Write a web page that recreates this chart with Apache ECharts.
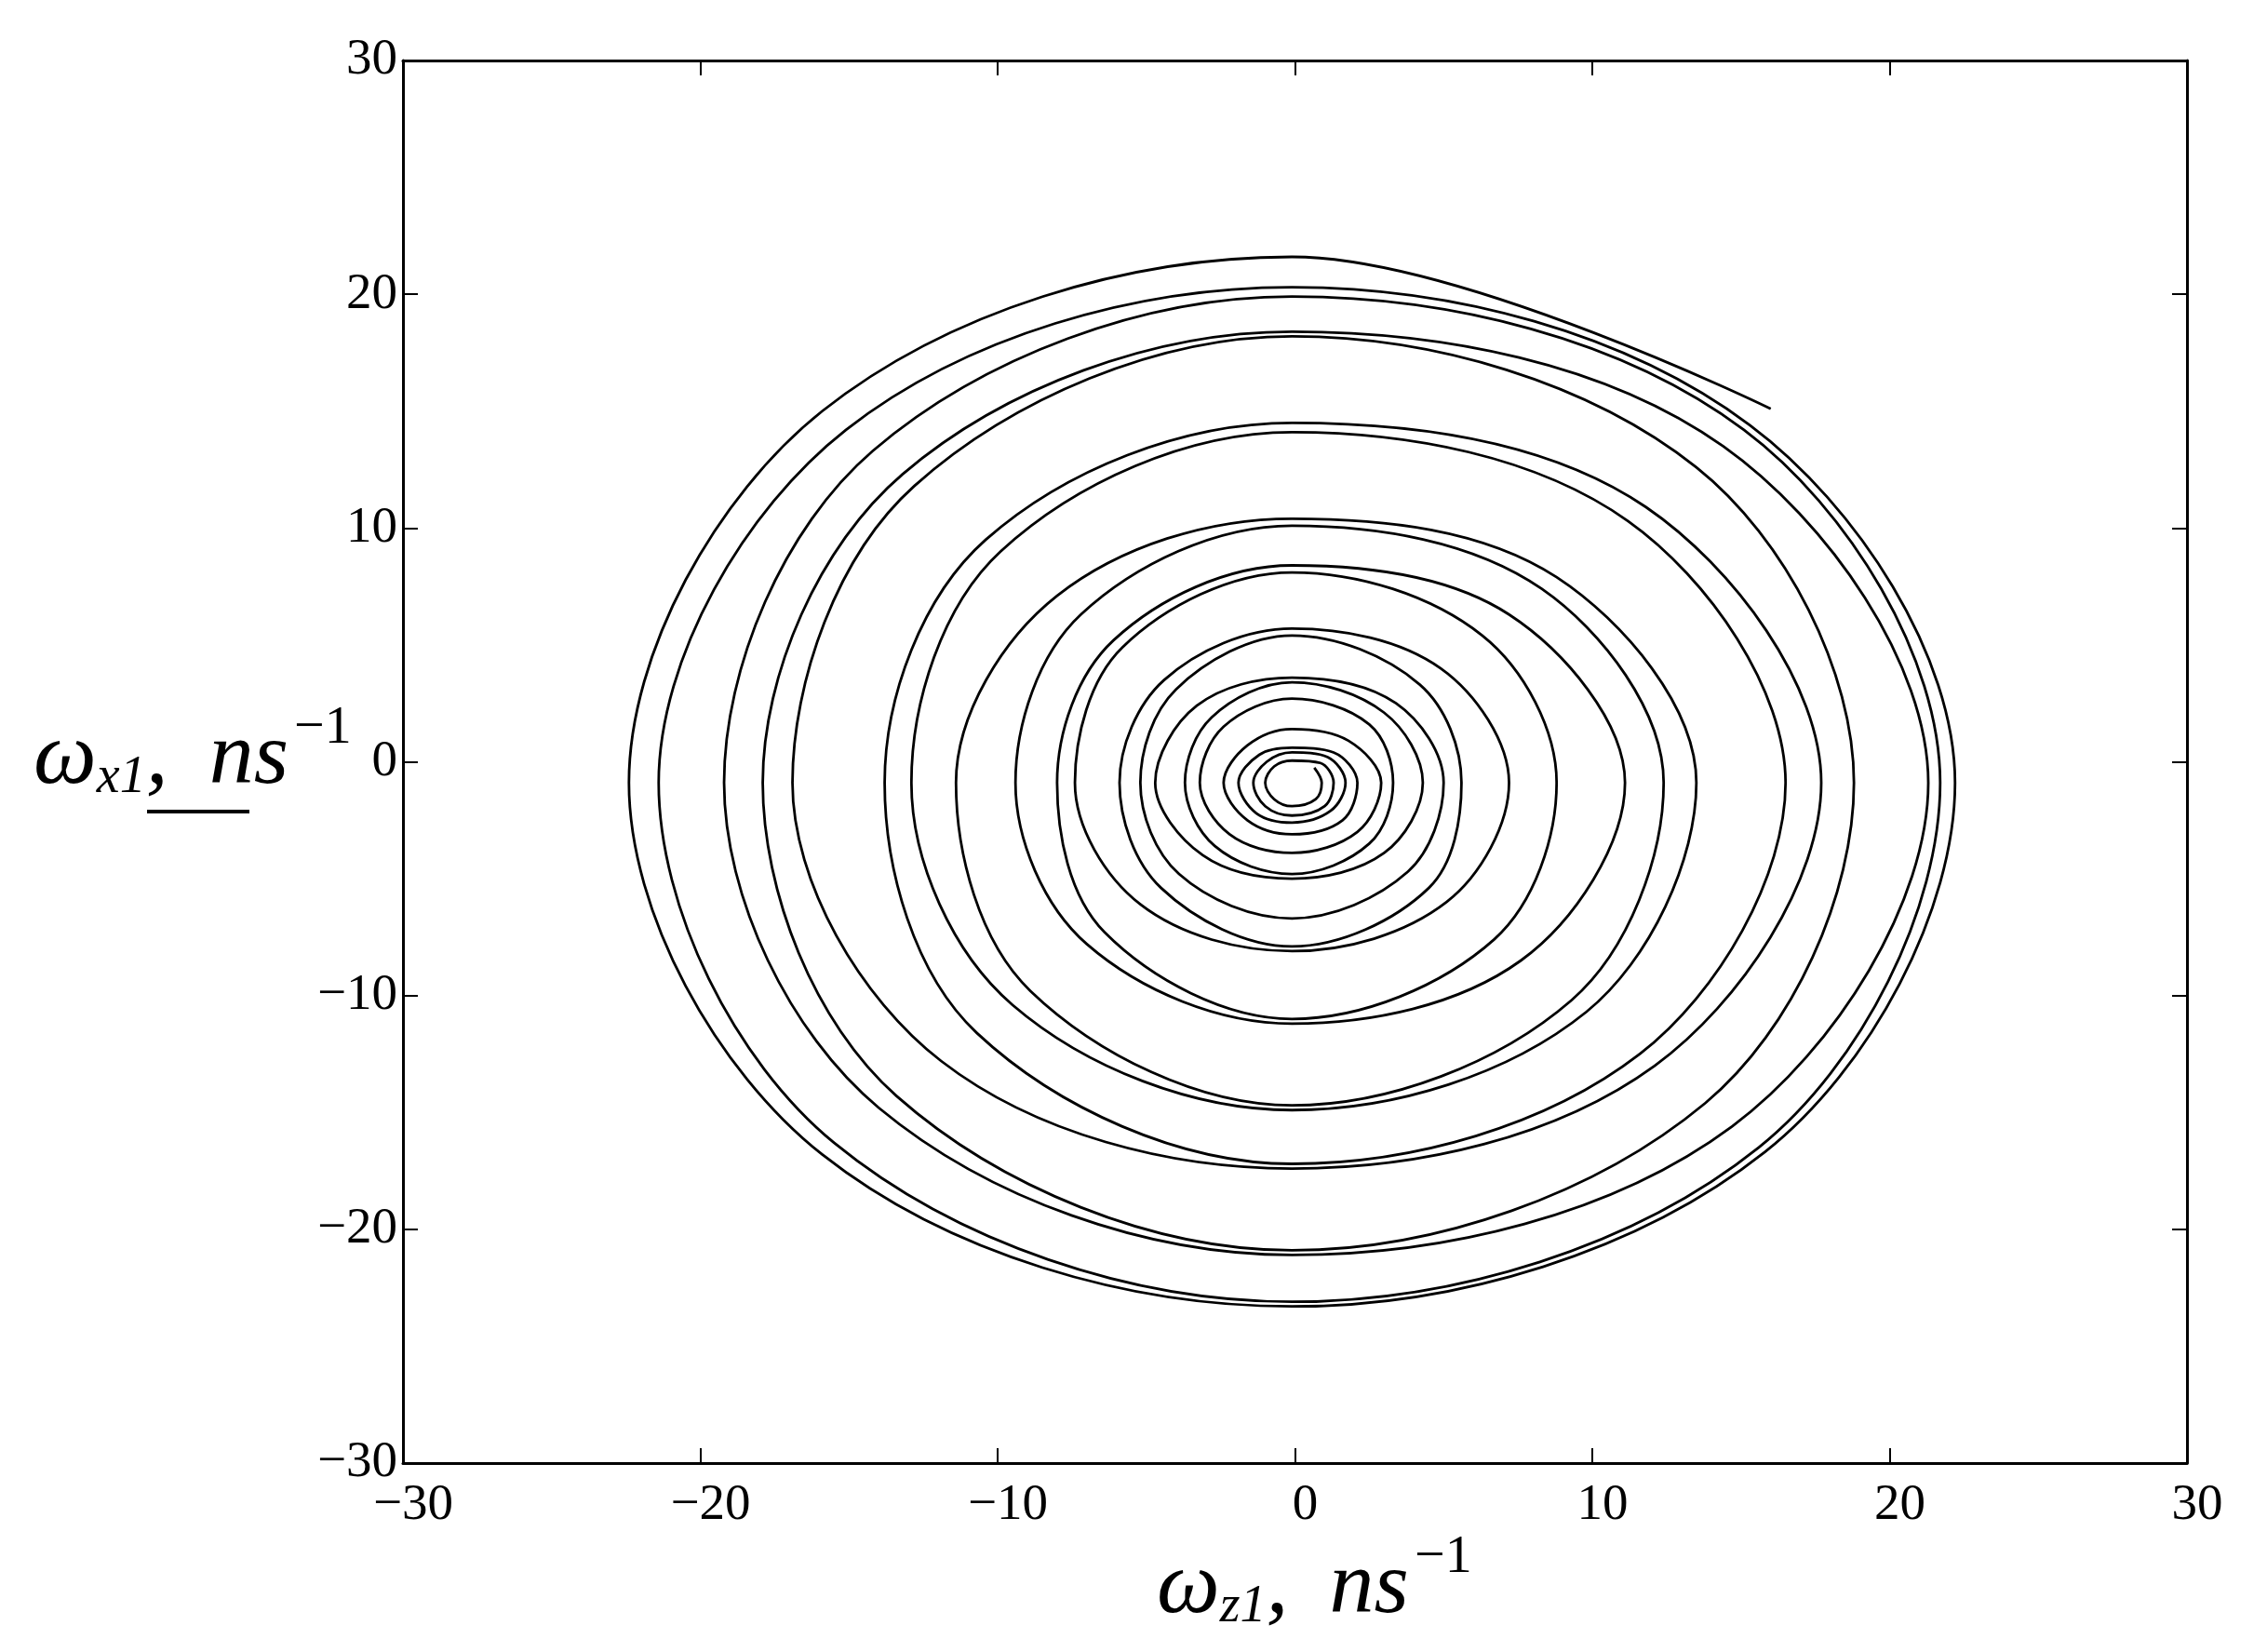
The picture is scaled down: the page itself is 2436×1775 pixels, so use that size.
<!DOCTYPE html>
<html lang="en">
<head>
    <meta charset="UTF-8">
    <title>omega z1 / omega x1</title>
    <script type="text/javascript" src="https://cdn.jsdelivr.net/npm/echarts@6/dist/echarts.min.js"></script>
    <style>
        html, body { margin: 0; padding: 0; background: #fff; }
        #main { width: 2436px; height: 1775px; }
    </style>
</head>
<body>
<div id="main"></div>
<script>
    // points of each loop, outer loop first
    // N / W / S / E: turning points; NW / SW / SE / NE: [z, x] pairs on the diagonals
    var loopN  = [21.6, 20.3, 19.9, 18.4, 18.2, 14.5, 14.1, 10.4, 10.1, 8.4, 8.1, 5.7, 5.4, 3.6, 3.4, 2.7, 1.4, 0.6, 0.4, 0.05];
    var loopNW = [[-15.9, 15.0], [-15.1, 14.2], [-14.2, 13.3], [-13.2, 12.3], [-12.8, 11.8], [-10.4, 9.5], [-9.9, 9.0], [-8.0, 7.1], [-7.2, 6.3], [-6.1, 5.2],
                  [-5.8, 4.9], [-4.4, 3.5], [-4.0, 3.1], [-3.3, 2.4], [-2.8, 1.9], [-2.4, 1.5], [-1.6, 0.7], [-1.2, 0.3], [-0.95, 0.0], [-0.7, -0.2]];
    var loopW  = [-22.4, -21.4, -19.2, -17.9, -16.9, -13.8, -12.9, -11.4, -9.4, -8.0, -7.4, -5.9, -5.2, -4.7, -3.7, -3.2, -2.4, -1.9, -1.4, -1.0];
    var loopSW = [[-15.9, -16.8], [-15.5, -16.3], [-14.0, -14.8], [-13.4, -14.3], [-11.9, -12.8], [-10.7, -11.6], [-9.5, -10.4], [-8.9, -9.8], [-7.0, -7.8], [-6.4, -7.3],
                  [-5.2, -6.1], [-4.5, -5.4], [-3.9, -4.8], [-3.1, -4.0], [-2.7, -3.6], [-2.2, -3.1], [-1.6, -2.5], [-1.3, -2.2], [-1.0, -1.9], [-0.7, -1.6]];
    var loopS  = [-23.3, -23.1, -21.1, -20.9, -17.4, -17.2, -14.9, -14.7, -11.2, -11.0, -8.1, -7.9, -6.7, -5.0, -4.8, -3.9, -3.1, -2.6, -2.3, -1.9];
    var loopSE = [[15.8, -16.7], [15.6, -16.5], [14.7, -15.6], [13.8, -14.6], [12.1, -13.0], [11.6, -12.5], [9.8, -10.7], [9.3, -10.2], [7.6, -8.5], [6.7, -7.6],
                  [5.1, -6.0], [4.5, -5.4], [3.8, -4.7], [3.0, -3.9], [2.5, -3.5], [2.1, -3.0], [1.6, -2.5], [1.2, -2.1], [1.0, -1.9], [0.7, -1.6]];
    var loopE  = [22.2, 21.7, 21.3, 18.8, 17.7, 16.5, 13.5, 12.4, 11.1, 8.8, 7.2, 5.6, 5.0, 4.3, 3.3, 2.9, 2.1, 1.7, 1.3, 0.9];
    var loopNE = [[15.3, 14.4], [15.1, 14.2], [14.4, 13.5], [13.5, 12.6], [11.8, 10.9], [11.2, 10.3], [8.8, 7.9], [8.3, 7.4], [7.2, 6.3], [6.3, 5.4],
                  [4.9, 4.0], [4.2, 3.3], [3.4, 2.5], [3.0, 2.1], [2.5, 1.6], [1.8, 0.9], [1.3, 0.4], [1.1, 0.2], [0.85, -0.05], [0.65, -0.25]];
    var sideLevel = -0.9;   // omega_x1 where left/right turning points sit
    var poleShift = -0.1;   // omega_z1 where top/bottom turning points sit
    var startPoint = [16.0, 15.1];
    var tickValues = [-30, -20, -10, 0, 10, 20, 30];

    var path = [startPoint];
    for (var i = 0; i < loopN.length; i++) {
        path.push([poleShift, loopN[i]], loopNW[i]);
        path.push([loopW[i], sideLevel], loopSW[i]);
        path.push([poleShift, loopS[i]], loopSE[i]);
        path.push([loopE[i], sideLevel], loopNE[i]);
    }

    var serif = "'Liberation Serif', 'DejaVu Serif', serif";
    var fmt = function (v) { return String(v).replace('-', '\u2212'); };

    function axisBase(show) {
        return {
            type: 'value',
            min: tickValues[0],
            max: tickValues[tickValues.length - 1],
            interval: 10,
            axisLine: { show: true, onZero: false, lineStyle: { color: '#000', width: 3 } },
            axisTick: { show: true, inside: true, length: 16, lineStyle: { color: '#000', width: 2 } },
            splitLine: { show: false },
            axisLabel: { show: show, color: '#000', fontFamily: serif, fontSize: 55, formatter: fmt }
        };
    }

    var xBottom = axisBase(true);
    xBottom.position = 'bottom';
    xBottom.axisLabel.margin = 18;
    xBottom.axisLabel.padding = [0, 0, 0, 22];
    var xTop = axisBase(false);
    xTop.position = 'top';
    var yLeft = axisBase(true);
    yLeft.position = 'left';
    yLeft.axisLabel.margin = 6;
    yLeft.axisLabel.padding = [10, 0, 0, 0];
    var yRight = axisBase(false);
    yRight.position = 'right';

    var titleRich = {
        m: { fontFamily: serif, fontStyle: 'italic', fontSize: 96, lineHeight: 110, fill: '#000', verticalAlign: 'bottom' },
        c: { fontFamily: serif, fontStyle: 'italic', fontSize: 96, lineHeight: 110, fill: '#000', verticalAlign: 'bottom', padding: [0, 20, 0, 0] },
        s: { fontFamily: serif, fontStyle: 'italic', fontSize: 56, lineHeight: 70, fill: '#000', verticalAlign: 'bottom' },
        p: { fontFamily: serif, fontSize: 58, fill: '#000', verticalAlign: 'top', padding: [0, 0, 0, 6] }
    };

    var chart = echarts.init(document.getElementById('main'));
    var option = {
        animation: false,
        backgroundColor: '#fff',
        grid: { left: 433, top: 65, width: 1917, height: 1507, containLabel: false },
        xAxis: [xBottom, xTop],
        yAxis: [yLeft, yRight],
        series: [{
            type: 'line',
            data: path,
            smooth: 0.35,
            showSymbol: false,
            symbol: 'none',
            lineStyle: { color: '#000', width: 2.8 },
            clip: true
        }],
        graphic: [
            {
                type: 'text', x: 36, y: 754,
                style: { text: '{m|\u03c9}{s|x1}{c|, }{m|ns}{p|\u22121}', rich: titleRich }
            },
            {
                type: 'line',
                shape: { x1: 158, y1: 872, x2: 268, y2: 872 },
                style: { stroke: '#000', lineWidth: 4 }
            },
            {
                type: 'text', x: 1243, y: 1645,
                style: { text: '{m|\u03c9}{s|z1}{c|, }{m|ns}{p|\u22121}', rich: titleRich }
            }
        ]
    };
    chart.setOption(option);
    window.onresize = function () {
        chart.resize();
    };
</script>
</body>
</html>
